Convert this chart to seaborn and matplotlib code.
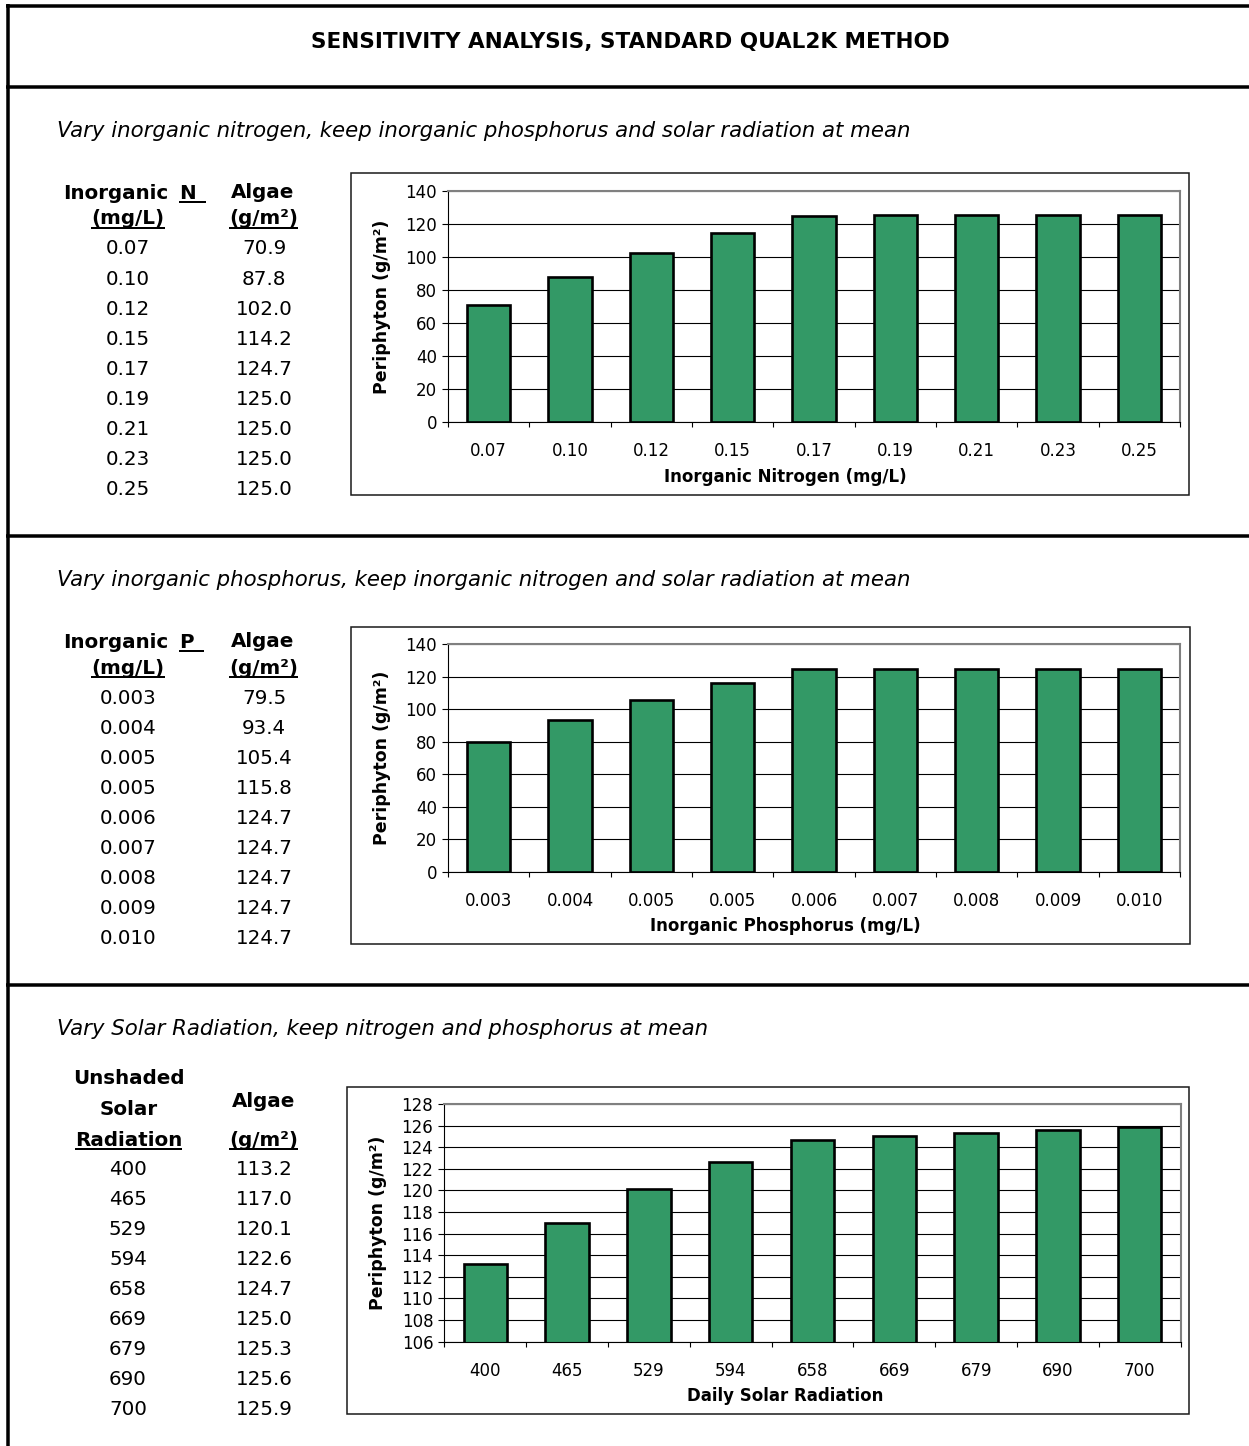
import matplotlib
matplotlib.use("Agg")
import matplotlib.pyplot as plt
import seaborn as sns
import numpy as np
import pandas as pd
from matplotlib.lines import Line2D
from matplotlib.patches import Rectangle
from matplotlib.ticker import FixedLocator

# ---------------- data ----------------
title = "SENSITIVITY ANALYSIS, STANDARD QUAL2K METHOD"
subtitles = [
    "Vary inorganic nitrogen, keep inorganic phosphorus and solar radiation at mean",
    "Vary inorganic phosphorus, keep inorganic nitrogen and solar radiation at mean",
    "Vary Solar Radiation, keep nitrogen and phosphorus at mean",
]
n_labels = ["0.07", "0.10", "0.12", "0.15", "0.17", "0.19", "0.21", "0.23", "0.25"]
n_algae = [70.9, 87.8, 102.0, 114.2, 124.7, 125.0, 125.0, 125.0, 125.0]
p_labels = ["0.003", "0.004", "0.005", "0.005", "0.006", "0.007", "0.008", "0.009", "0.010"]
p_algae = [79.5, 93.4, 105.4, 115.8, 124.7, 124.7, 124.7, 124.7, 124.7]
s_labels = ["400", "465", "529", "594", "658", "669", "679", "690", "700"]
s_algae = [113.2, 117.0, 120.1, 122.6, 124.7, 125.0, 125.3, 125.6, 125.9]
x_titles = ["Inorganic Nitrogen (mg/L)", "Inorganic Phosphorus (mg/L)", "Daily Solar Radiation"]
y_title = "Periphyton (g/m²)"
algae_head = ["Algae", "(g/m²)"]

BAR = "#339966"
W, H = 1249, 1446

sns.set_style("white")
plt.rcParams['font.family'] = ['DejaVu Sans']
plt.rcParams['text.color'] = 'black'
plt.rcParams['axes.labelcolor'] = 'black'
plt.rcParams['xtick.color'] = 'black'
plt.rcParams['ytick.color'] = 'black'
fig = plt.figure(figsize=(W / 100, H / 100), dpi=100)


def fx(x):
    return x / W


def fy(y):
    return 1 - y / H


def ftext(x, y, s, size, weight='normal', style='normal', ha='center', va='baseline'):
    return fig.text(fx(x), fy(y), s, fontsize=size, fontweight=weight,
                    fontstyle=style, ha=ha, va=va, color='black')


def fline(xs, ys, lw_px, color='black'):
    fig.add_artist(Line2D([fx(v) for v in xs], [fy(v) for v in ys],
                          transform=fig.transFigure, color=color,
                          lw=lw_px * 0.72, solid_capstyle='butt'))


# ---------------- frame ----------------
fline([7.5, 7.5], [4, H], 3.5)
fline([6, W], [5.5, 5.5], 3.5)
for yy in [86.5, 536, 985]:
    fline([6, W], [yy, yy], 3.5)

ftext(630, 48, title, 15.5, weight='bold')
for yy, s in zip([137, 586, 1035], subtitles):
    ftext(57, yy, s, 15.3, style='italic', ha='left')

TS = 14.3
underlined = []  # (text, baseline, extra_px)

# ---------------- tables 1 & 2 ----------------
for off, letter, labs, vals in [(0, "N", n_labels, n_algae), (449, "P", p_labels, p_algae)]:
    ftext(62.7, 199 + off, "Inorganic", TS, weight='bold', ha='left')
    t = ftext(179, 199 + off, letter, TS, weight='bold', ha='left')
    underlined.append((t, 199 + off, 10))
    ftext(263, 198 + off, algae_head[0], TS, weight='bold')
    t = ftext(128, 224.5 + off, "(mg/L)", TS, weight='bold')
    underlined.append((t, 224.5 + off, 0))
    t = ftext(263.5, 224.5 + off, algae_head[1], TS, weight='bold')
    underlined.append((t, 224.5 + off, 0))
    for i, (l, v) in enumerate(zip(labs, vals)):
        yb = 254.5 + 30.05 * i + off
        ftext(128, yb, l, TS)
        ftext(264, yb, f"{v:.1f}", TS)

# ---------------- table 3 ----------------
ftext(128.5, 1084, "Unshaded", TS, weight='bold')
ftext(128.5, 1115, "Solar", TS, weight='bold')
t = ftext(128.5, 1145.5, "Radiation", TS, weight='bold')
underlined.append((t, 1145.5, 0))
ftext(263.5, 1107, algae_head[0], TS, weight='bold')
t = ftext(263.5, 1145.5, algae_head[1], TS, weight='bold')
underlined.append((t, 1145.5, 0))
for i, (l, v) in enumerate(zip(s_labels, s_algae)):
    yb = 1175 + 30 * i
    ftext(128, yb, l, TS)
    ftext(264, yb, f"{v:.1f}", TS)


# ---------------- charts ----------------
def make_chart(rect, box, labels, values, xlabel, ylim, ystep):
    left, top, right, bottom = rect
    bx0, by0, bx1, by1 = box
    fig.add_artist(Rectangle((fx(bx0), fy(by1)), (bx1 - bx0) / W, (by1 - by0) / H,
                             transform=fig.transFigure, fill=False,
                             edgecolor='#1a1a1a', lw=1.1))
    ax = fig.add_axes([fx(left), fy(bottom), (right - left) / W, (bottom - top) / H])
    df = pd.DataFrame({"idx": list(range(len(values))), "algae": values})
    sns.barplot(data=df, x="idx", y="algae", ax=ax, color=BAR, saturation=1,
                width=0.53, edgecolor='black', linewidth=1.9)
    ax.set_xlim(-0.5, len(values) - 0.5)
    ax.set_ylim(*ylim)
    ax.set_yticks(np.arange(ylim[0], ylim[1] + 0.01, ystep))
    ax.set_xticks(range(len(values)))
    ax.set_xticklabels(labels)
    ax.xaxis.set_minor_locator(FixedLocator(np.arange(-0.5, len(values), 1.0)))
    ax.tick_params(axis='x', which='major', length=0, pad=14.4, labelsize=12, colors='black')
    ax.tick_params(axis='x', which='minor', length=3.6, width=0.8, direction='out',
                   color='black', bottom=True)
    ax.tick_params(axis='y', which='major', length=4.3, width=0.8, direction='out',
                   pad=3.6, labelsize=12, colors='black', left=True)
    ax.yaxis.grid(True, color='black', lw=0.8)
    ax.xaxis.grid(False)
    ax.set_axisbelow(True)
    for side in ['top', 'right']:
        ax.spines[side].set_color('#808080')
        ax.spines[side].set_linewidth(1.5)
    for side in ['left', 'bottom']:
        ax.spines[side].set_color('black')
        ax.spines[side].set_linewidth(0.8)
    ax.set_xlabel(xlabel, fontsize=12, fontweight='bold', color='black')
    ax.set_ylabel(y_title, fontsize=12.5, fontweight='bold', color='black')
    wpx = right - left
    hpx = bottom - top
    ax.xaxis.set_label_coords((785 - left) / wpx, -54.5 / hpx)
    ax.xaxis.label.set_va('center')
    ax.yaxis.set_label_coords(-66 / wpx, 0.5)
    ax.yaxis.label.set_va('center')
    return ax


make_chart((448, 190.5, 1180, 422.3), (351, 173, 1189, 495),
           n_labels, n_algae, x_titles[0], (0, 140), 20)
make_chart((448, 644, 1180, 871.7), (351, 627, 1189.5, 944),
           p_labels, p_algae, x_titles[1], (0, 140), 20)
make_chart((444.3, 1104, 1180.7, 1341.7), (346.7, 1087, 1188.7, 1414),
           s_labels, s_algae, x_titles[2], (106, 128), 2)

# ---------------- underlines ----------------
fig.canvas.draw()
renderer = fig.canvas.get_renderer()
for t, yb, extra in underlined:
    bb = t.get_window_extent(renderer)
    fline([bb.x0, bb.x1 + extra], [yb + 3.3, yb + 3.3], 2)

fig.savefig("out.png", dpi=100, facecolor='white')
